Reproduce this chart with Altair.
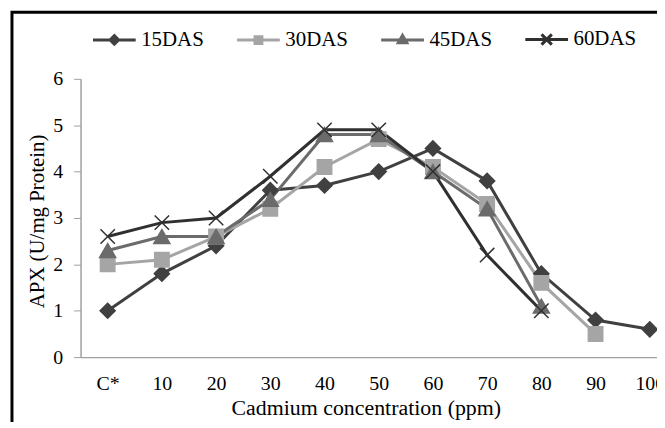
import altair as alt
import pandas as pd

categories = ["C*", "10", "20", "30", "40", "50", "60", "70", "80", "90", "100"]
series = ["15DAS", "30DAS", "45DAS", "60DAS"]
das15 = [1.0, 1.8, 2.4, 3.6, 3.7, 4.0, 4.5, 3.8, 1.8, 0.8, 0.6]
das30 = [2.0, 2.1, 2.6, 3.2, 4.1, 4.7, 4.1, 3.3, 1.6, 0.5, None]
das45 = [2.3, 2.6, 2.6, 3.4, 4.8, 4.8, 4.0, 3.2, 1.1, None, None]
das60 = [2.6, 2.9, 3.0, 3.9, 4.9, 4.9, 4.0, 2.2, 1.0, None, None]
y_ticks = [0, 1, 2, 3, 4, 5, 6]

colors = ["#404040", "#a5a5a5", "#6b6b6b", "#303030"]
fills = ["#404040", "#a5a5a5", "#6b6b6b", "transparent"]
shapes = ["diamond", "square", "triangle-up", "M-1,-1L1,1M-1,1L1,-1"]
sizes = [230, 210, 260, 210]
legend_shapes = [
    "M-1,0L1,0M0,-0.2L0.2,0L0,0.2L-0.2,0ZM0,-0.08L0.08,0L0,0.08L-0.08,0Z",
    "M-1,0L1,0M-0.16,-0.16L0.16,-0.16L0.16,0.16L-0.16,0.16ZM-0.05,-0.05L0.05,-0.05L0.05,0.05L-0.05,0.05Z",
    "M-1,0L1,0M0,-0.22L0.2,0.13L-0.2,0.13ZM0,-0.06L0.06,0.05L-0.06,0.05Z",
    "M-1,0L1,0M-0.24,-0.24L0.24,0.24M-0.24,0.24L0.24,-0.24",
]

rows = []
for name, vals in zip(series, [das15, das30, das45, das60]):
    for c, v in zip(categories, vals):
        if v is not None:
            rows.append({"cat": c, "series": name, "value": v})
df = pd.DataFrame(rows)

FONT = "Liberation Serif"

x_enc = alt.X(
    "cat:O",
    sort=categories,
    scale=alt.Scale(type="point", domain=categories, range=[0, 600], padding=0.5),
    axis=alt.Axis(
        title="Cadmium concentration (ppm)",
        labelAngle=0,
        ticks=False,
        labelPadding=17,
        domainColor="#a0a0a0",
        domainWidth=1.5,
        labelFont=FONT,
        labelFontSize=20,
        labelColor="black",
        titleFont=FONT,
        titleFontSize=22,
        titleFontWeight="normal",
        titleColor="black",
        titleX=287,
        titleY=58,
        titleBaseline="alphabetic",
    ),
)
y_enc = alt.Y(
    "value:Q",
    scale=alt.Scale(domain=[0, 6], nice=False),
    axis=alt.Axis(
        title="APX (U/mg Protein)",
        values=y_ticks,
        grid=False,
        tickSize=7,
        tickColor="#a0a0a0",
        domainColor="#a0a0a0",
        domainWidth=1.5,
        labelPadding=11,
        labelFont=FONT,
        labelFontSize=20,
        labelColor="black",
        titleFont=FONT,
        titleFontSize=21,
        titleFontWeight="normal",
        titleColor="black",
        titleX=-43,
        titleY=143,
        titleAngle=270,
        titleAlign="center",
        titleBaseline="middle",
    ),
)

legend = alt.Legend(
    title=None,
    orient="none",
    legendX=11,
    legendY=-63,
    direction="horizontal",
    columns=4,
    padding=0,
    symbolSize=1849,
    symbolStrokeWidth=3,
    symbolOpacity=1,
    labelOffset=4,
    columnPadding=26,
    labelFont=FONT,
    labelFontSize=21,
    labelColor="black",
    labelBaseline="middle",
)

base = alt.Chart(df)

lines = base.mark_line(strokeWidth=3).encode(
    x=x_enc,
    y=y_enc,
    color=alt.Color("series:N", scale=alt.Scale(domain=series, range=colors), legend=legend),
    detail="series:N",
)

point_layers = []
for s, col, fl, shp, sz in zip(series, colors, fills, shapes, sizes):
    point_layers.append(
        base.transform_filter(alt.datum.series == s)
        .mark_point(filled=True, opacity=1, strokeWidth=1.5, shape=shp, size=sz, fill=fl, stroke=col)
        .encode(x=x_enc, y=y_enc)
    )

legend_layer = (
    base.mark_point(filled=True, opacity=1, strokeWidth=3)
    .encode(
        x=x_enc,
        y=y_enc,
        size=alt.value(0),
        fill=alt.Fill("series:N", scale=alt.Scale(domain=series, range=fills), legend=legend),
        stroke=alt.Stroke("series:N", scale=alt.Scale(domain=series, range=colors), legend=None),
        shape=alt.Shape("series:N", scale=alt.Scale(domain=series, range=legend_shapes), legend=None),
    )
)

border = alt.Chart(pd.DataFrame({"b": [0]})).mark_rect(
    fill="transparent", stroke="black", strokeWidth=3
).encode(
    x=alt.value(-69),
    x2=alt.value(800),
    y=alt.value(-67),
    y2=alt.value(600),
)

chart = (
    alt.layer(border, lines, *point_layers, legend_layer)
    .properties(
        width=580,
        height=280,
        padding={"left": 73, "top": 70, "right": 0, "bottom": 64},
        autosize=alt.AutoSizeParams(type="none"),
        background="white",
    )
    .configure(font=FONT)
    .configure_view(stroke=None)
    .configure_legend(
        labelFont=FONT,
        labelFontSize=21,
        labelColor="black",
        labelFontWeight="normal",
        labelLimit=0,
    )
)

chart.save("out.html", embed_options={"renderer": "svg", "actions": False})
